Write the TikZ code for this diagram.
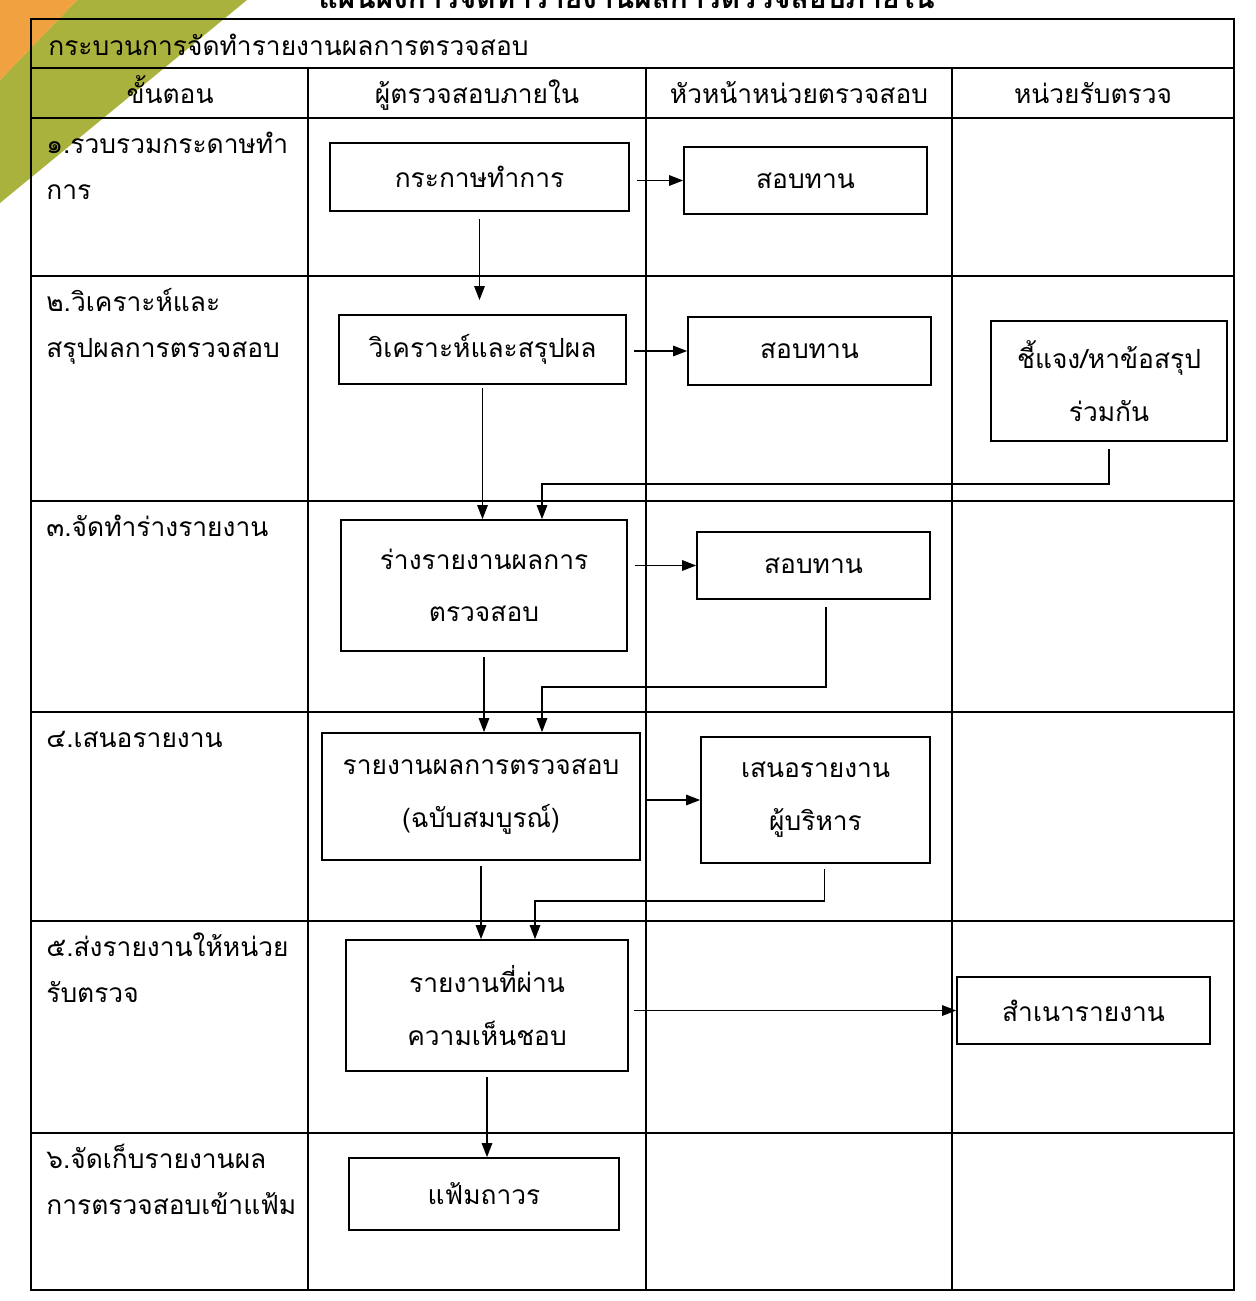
\documentclass[tikz,border=0pt]{standalone}
\usepackage{fontspec}
\setmainfont[Script=Thai]{Loma}
\usetikzlibrary{arrows.meta,positioning}
\definecolor{cornerorange}{RGB}{240,162,64}
\definecolor{cornergreen}{RGB}{170,178,62}

\begin{document}
\begin{tikzpicture}[x=0.02cm,y=-0.02cm,
    box/.style={draw,line width=1pt,inner sep=2pt,align=center,font=\fontsize{15}{30}\selectfont},
    arr/.style={line width=0.8pt,-{Triangle[length=8pt,width=6pt]}},
    grid/.style={line width=0.6pt},
    steplabel/.style={anchor=north west,align=left,inner sep=0pt,font=\fontsize{15}{26.6}\selectfont},
    head/.style={anchor=base,inner sep=0pt,font=\fontsize{15}{18}\selectfont}]
  \def\xl{31}
  \def\xa{308}
  \def\xb{646}
  \def\xc{952}
  \def\xr{1234}

  \clip (0,0) rectangle (1256,1301);
  \fill[white] (0,0) rectangle (1256,1301);
  \fill[cornergreen] (77,0) -- (247,0) -- (0,203) -- (0,80) -- cycle;
  \fill[cornerorange] (0,0) -- (77,0) -- (0,80) -- cycle;

  \node[anchor=base east,inner sep=0pt,font=\fontsize{17}{20}\selectfont\bfseries] (title) at (935,9) {แผนผังการจัดทำรายงานผลการตรวจสอบภายใน};

  \draw[grid] (\xl,19) rectangle (\xr,1290);
  \foreach \y in {68,118,276,501,712,921,1133}
    \draw[grid] (\xl,\y) -- (\xr,\y);
  \foreach \x in {\xa,\xb,\xc}
    \draw[grid] (\x,68) -- (\x,1290);

  \node[anchor=base west,inner sep=0pt,font=\fontsize{15}{18}\selectfont] (process) at (48,56) {กระบวนการจัดทำรายงานผลการตรวจสอบ};
  \node[head] (hstep) at (170,104) {ขั้นตอน};
  \node[head] (hauditor) at (477,104) {ผู้ตรวจสอบภายใน};
  \node[head] (hchief) at (799,104) {หัวหน้าหน่วยตรวจสอบ};
  \node[head] (hunit) at (1093,104) {หน่วยรับตรวจ};

  \foreach \y/\t [count=\i] in {118/{๑.รวบรวมกระดาษทำ\\การ},
      276/{๒.วิเคราะห์และ\\สรุปผลการตรวจสอบ},
      501/{๓.จัดทำร่างรายงาน},
      712/{๔.เสนอรายงาน},
      921/{๕.ส่งรายงานให้หน่วย\\รับตรวจ},
      1133/{๖.จัดเก็บรายงานผล\\การตรวจสอบเข้าแฟ้ม}}
    \node[steplabel] (step\i) at (46,\y+2) {\strut\t};

  \node[box,minimum width=5.98cm,minimum height=1.36cm] (b1) at (479.5,177) {กระกาษทำการ};
  \node[box,minimum width=4.86cm,minimum height=1.34cm] (s1) at (805.5,180.5) {สอบทาน};
  \node[box,minimum width=5.74cm,minimum height=1.38cm] (b2) at (482.5,349.5) {วิเคราะห์และสรุปผล};
  \node[box,minimum width=4.86cm,minimum height=1.36cm] (s2) at (809.5,351) {สอบทาน};
  \node[box,minimum width=4.72cm,minimum height=2.4cm] (c2) at (1109,381) {ชี้แจง/หาข้อสรุป\\ร่วมกัน};
  \node[box,minimum width=5.72cm,minimum height=2.62cm] (b3) at (484,585.5) {ร่างรายงานผลการ\\ตรวจสอบ};
  \node[box,minimum width=4.66cm,minimum height=1.34cm] (s3) at (813.5,565.5) {สอบทาน};
  \node[box,minimum width=6.36cm,minimum height=2.54cm] (b4) at (481,796.5) {รายงานผลการตรวจสอบ\\(ฉบับสมบูรณ์)};
  \node[box,minimum width=4.58cm,minimum height=2.52cm] (s4) at (815.5,800) {เสนอรายงาน\\ผู้บริหาร};
  \node[box,minimum width=5.64cm,minimum height=2.62cm] (b5) at (487,1005.5) {รายงานที่ผ่าน\\ความเห็นชอบ};
  \node[box,minimum width=5.06cm,minimum height=1.34cm] (c5) at (1083.5,1010.5) {สำเนารายงาน};
  \node[box,minimum width=5.4cm,minimum height=1.44cm] (b6) at (484,1194) {แฟ้มถาวร};

  \coordinate (m2) at (542,484);
  \coordinate (m3) at (542,687);
  \coordinate (m4) at (535,901);

  \draw[arr,shorten <=4pt] (b1.east |- s1.west) -- (s1.west);
  \draw[arr,shorten <=4pt,shorten >=8pt] (b1.south) -- (b1.south |- b2.north);
  \draw[arr,shorten <=4pt] (b2.east |- s2.west) -- (s2.west);
  \draw[arr,shorten <=2pt] (b2.south) -- (b2.south |- b3.north);
  \draw[arr,shorten <=4pt] (c2.south) |- (m2) -- (m2 |- b3.north);
  \draw[arr,shorten <=4pt] (b3.east |- s3.west) -- (s3.west);
  \draw[arr,shorten <=3pt] (b3.south) -- (b3.south |- b4.north);
  \draw[arr,shorten <=4pt] ([xshift=7pt]s3.south) |- (m3) -- (m3 |- b4.north);
  \draw[arr,shorten <=3pt] (b4.east |- s4.west) -- (s4.west);
  \draw[arr,shorten <=3pt] (b4.south) -- (b4.south |- b5.north);
  \draw[arr,shorten <=3pt] ([xshift=5pt]s4.south) |- (m4) -- (m4 |- b5.north);
  \draw[arr,shorten <=3pt] (b5.east |- c5.west) -- (c5.west);
  \draw[arr,shorten <=3pt] (b5.south) -- (b5.south |- b6.north);
\end{tikzpicture}
\end{document}
